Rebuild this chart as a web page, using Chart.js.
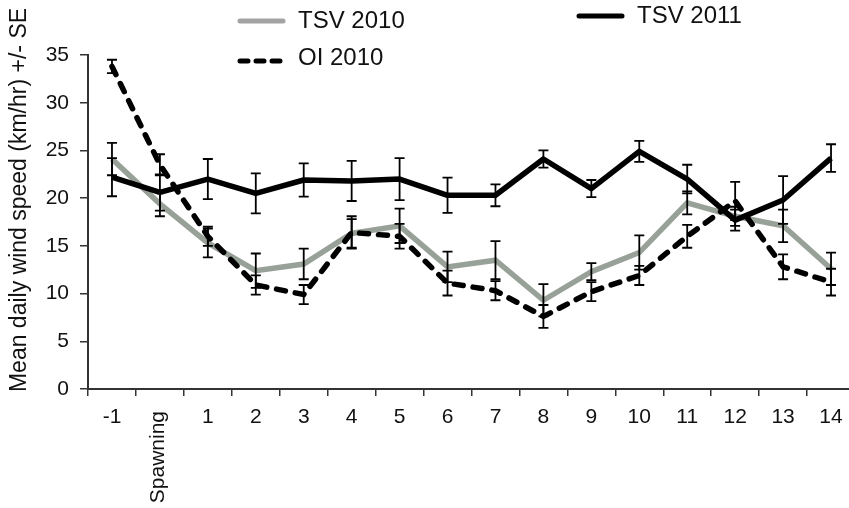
<!DOCTYPE html>
<html>
<head>
<meta charset="utf-8">
<script src="https://cdn.jsdelivr.net/npm/chart.js@4.4.1/dist/chart.umd.min.js"></script>
<style>
  html, body { margin: 0; padding: 0; background: #fff; }
  #wrap { width: 849px; height: 508px; overflow: hidden; position: relative; }
  canvas { display: block; }
</style>
</head>
<body>
<div id="wrap"><canvas id="windChart" width="855" height="508"></canvas></div>
<script>
const days = ['-1', 'Spawning', '1', '2', '3', '4', '5', '6', '7', '8', '9', '10', '11', '12', '13', '14'];

const tsv2010 = [24.1, 19.4, 15.3, 12.4, 13.1, 16.3, 17.1, 12.8, 13.5, 9.3, 12.3, 14.3, 19.5, 18.1, 17.1, 12.6];
const tsv2010Se = [1.7, 1.3, 1.5, 1.8, 1.6, 1.5, 1.8, 1.6, 2.0, 1.7, 0.9, 1.8, 1.2, 1.0, 1.7, 1.7];

const oi2010 = [33.8, 23.5, 16.0, 10.9, 9.9, 16.4, 16.0, 11.1, 10.3, 7.6, 10.2, 11.9, 16.0, 19.7, 12.8, 11.2];
const oi2010Se = [0.7, 1.1, 1.0, 1.0, 1.0, 1.7, 1.3, 1.3, 1.0, 1.2, 1.0, 1.0, 1.2, 2.0, 1.3, 1.4];

const tsv2011 = [22.2, 20.6, 22.0, 20.5, 21.9, 21.8, 22.0, 20.3, 20.3, 24.1, 21.0, 24.9, 22.0, 17.7, 19.8, 24.2];
const tsv2011Se = [2.0, 1.9, 2.1, 2.1, 1.75, 2.1, 2.2, 1.85, 1.15, 0.9, 0.9, 1.1, 1.5, 1.1, 2.5, 1.45];

const yTicks = [0, 5, 10, 15, 20, 25, 30, 35];

const FONT = 'Liberation Sans, Arial, sans-serif';
Chart.defaults.font.family = FONT;

// error bars (+/- SE) on every point
const errorBars = {
    id: 'errorBars',
    afterDatasetsDraw(chart) {
        const ctx = chart.ctx;
        const y = chart.scales.y;
        ctx.save();
        ctx.strokeStyle = '#000';
        ctx.lineWidth = 1.8;
        chart.data.datasets.forEach((ds, di) => {
            const meta = chart.getDatasetMeta(di);
            meta.data.forEach((pt, i) => {
                const top = y.getPixelForValue(ds.data[i] + ds.se[i]);
                const bot = y.getPixelForValue(ds.data[i] - ds.se[i]);
                ctx.beginPath();
                ctx.moveTo(pt.x, top); ctx.lineTo(pt.x, bot);
                ctx.moveTo(pt.x - 5, top); ctx.lineTo(pt.x + 5, top);
                ctx.moveTo(pt.x - 5, bot); ctx.lineTo(pt.x + 5, bot);
                ctx.stroke();
            });
        });
        ctx.restore();
    }
};

// x labels (Spawning is written upright), y title and the legend
const decorations = {
    id: 'decorations',
    afterDraw(chart) {
        const ctx = chart.ctx;
        const x = chart.scales.x;
        ctx.save();
        ctx.fillStyle = '#111';
        ctx.font = '21px ' + FONT;
        days.forEach((d, i) => {
            const px = x.getPixelForTick(i);
            if (d === 'Spawning') {
                ctx.save();
                ctx.translate(px - 1.5, 411);
                ctx.rotate(-Math.PI / 2);
                ctx.textAlign = 'right';
                ctx.textBaseline = 'middle';
                ctx.fillText(d, 0, 0);
                ctx.restore();
            } else {
                ctx.textAlign = 'center';
                ctx.textBaseline = 'middle';
                ctx.fillText(d, px, 417);
            }
        });

        ctx.save();
        ctx.font = '23px ' + FONT;
        ctx.translate(20, 200);
        ctx.rotate(-Math.PI / 2);
        ctx.textAlign = 'center';
        ctx.textBaseline = 'middle';
        ctx.fillText('Mean daily wind speed (km/hr) +/- SE', 0, 0);
        ctx.restore();

        const items = [
            { ds: 0, x: 238, y: 21, ty: 21 },
            { ds: 1, x: 238, y: 61, ty: 58 },
            { ds: 2, x: 577, y: 16, ty: 16 }
        ];
        ctx.font = '24px ' + FONT;
        ctx.textAlign = 'left';
        ctx.textBaseline = 'middle';
        items.forEach(it => {
            const ds = chart.data.datasets[it.ds];
            ctx.save();
            ctx.strokeStyle = ds.legendColor || ds.borderColor;
            ctx.lineWidth = 5;
            ctx.lineCap = 'round';
            ctx.setLineDash(ds.legendDash || []);
            ctx.beginPath();
            ctx.moveTo(it.x + 2, it.y);
            ctx.lineTo(it.x + 45, it.y);
            ctx.stroke();
            ctx.restore();
            ctx.fillStyle = '#111';
            ctx.fillText(ds.label, it.x + 60, it.ty);
        });
        ctx.restore();
    }
};

new Chart(document.getElementById('windChart'), {
    type: 'line',
    data: {
        labels: days,
        datasets: [{
            label: 'TSV 2010',
            data: tsv2010,
            se: tsv2010Se,
            borderColor: '#98a198',
            legendColor: '#a3a3a3',
            borderWidth: 5.5,
            pointRadius: 0,
            tension: 0,
            order: 2
        }, {
            label: 'OI 2010',
            data: oi2010,
            se: oi2010Se,
            borderColor: '#000',
            borderWidth: 5.5,
            borderDash: [9, 10],
            legendDash: [8, 8],
            borderCapStyle: 'round',
            pointRadius: 0,
            tension: 0,
            order: 1
        }, {
            label: 'TSV 2011',
            data: tsv2011,
            se: tsv2011Se,
            borderColor: '#000',
            borderWidth: 5.5,
            borderJoinStyle: 'round',
            pointRadius: 0,
            tension: 0,
            order: 0
        }]
    },
    options: {
        responsive: false,
        animation: false,
        layout: { padding: { top: 55, right: 0, left: 0, bottom: 0 } },
        plugins: {
            legend: { display: false },
            tooltip: { enabled: false }
        },
        scales: {
            x: {
                offset: true,
                grid: { offset: true, drawOnChartArea: false, tickLength: 7, color: '#333', lineWidth: 1.5 },
                border: { color: '#333', width: 2 },
                ticks: { display: false },
                afterFit(scale) { scale.height = 119; }
            },
            y: {
                min: 0,
                max: 35,
                afterBuildTicks(scale) { scale.ticks = yTicks.map(v => ({ value: v })); },
                grid: { drawOnChartArea: false, tickLength: 8, color: '#333', lineWidth: 1.5 },
                border: { color: '#333', width: 2 },
                ticks: { color: '#111', font: { size: 21 }, padding: 11 },
                afterFit(scale) { scale.width = 88; }
            }
        }
    },
    plugins: [errorBars, decorations]
});
</script>
</body>
</html>
